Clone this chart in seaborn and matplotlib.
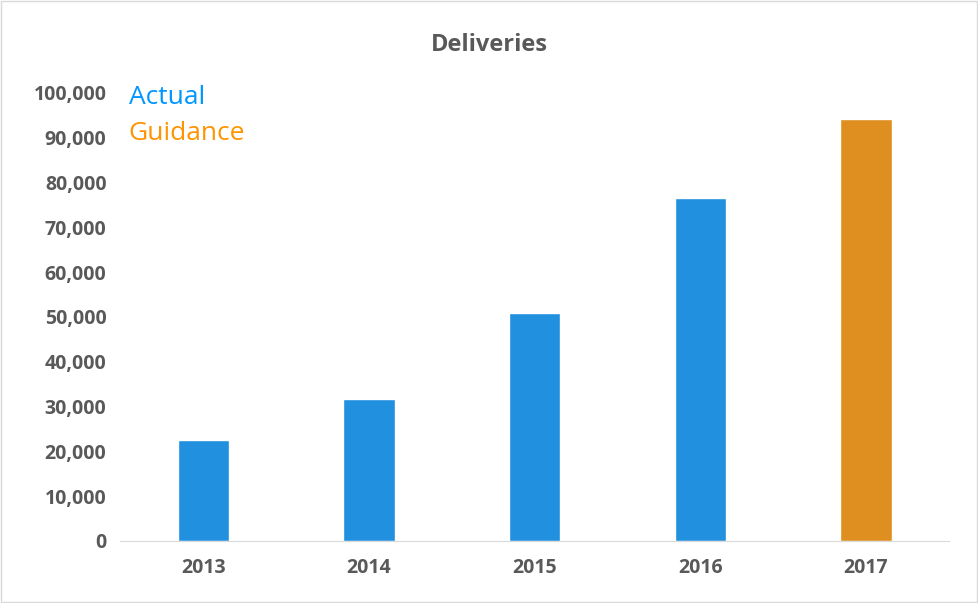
import matplotlib
matplotlib.use("Agg")
import matplotlib.pyplot as plt
import seaborn as sns
import pandas as pd
from matplotlib.ticker import FuncFormatter

years = ["2013", "2014", "2015", "2016", "2017"]
deliveries = [22500, 31700, 50900, 76600, 94200]
kind = ["Actual", "Actual", "Actual", "Actual", "Guidance"]

df = pd.DataFrame({"year": years, "deliveries": deliveries, "kind": kind})
palette = {"Actual": "#0096FF", "Guidance": "#FF9300"}

sns.set_style("white")
plt.rcParams["font.family"] = ["Open Sans", "DejaVu Sans"]

fig = plt.figure(figsize=(9.79, 6.03), dpi=100)
ax = fig.add_axes([0.123, 0.103, 0.846, 0.743])
sns.barplot(data=df, x="year", y="deliveries", hue="kind", palette=palette,
            dodge=False, width=0.31, legend=False, ax=ax)

ax.set_ylim(0, 100000)
ax.set_yticks(range(0, 100001, 10000))
ax.yaxis.set_major_formatter(FuncFormatter(lambda v, p: f"{int(v):,}"))
ax.set_xlabel("")
ax.set_ylabel("")
for s in ["top", "right", "left"]:
    ax.spines[s].set_visible(False)
ax.spines["bottom"].set_color("#d9d9d9")
ax.tick_params(axis="both", length=0, labelsize=14, labelcolor="#595959")
for lab in ax.get_xticklabels() + ax.get_yticklabels():
    lab.set_fontweight("bold")
ax.tick_params(axis="x", pad=12)
ax.tick_params(axis="y", pad=10)

fig.text(0.5, 0.925, "Deliveries", ha="center", va="center", fontsize=17,
         fontweight="bold", color="#595959")
ax.text(0.01, 0.99, "Actual", transform=ax.transAxes, fontsize=19,
        color=palette["Actual"], va="center")
ax.text(0.01, 0.91, "Guidance", transform=ax.transAxes, fontsize=19,
        color=palette["Guidance"], va="center")

fig.patches.append(plt.Rectangle((0.001, 0.002), 0.997, 0.996, transform=fig.transFigure,
                                 fill=False, edgecolor="#d9d9d9", linewidth=1))
fig.savefig("out.png", dpi=100)
